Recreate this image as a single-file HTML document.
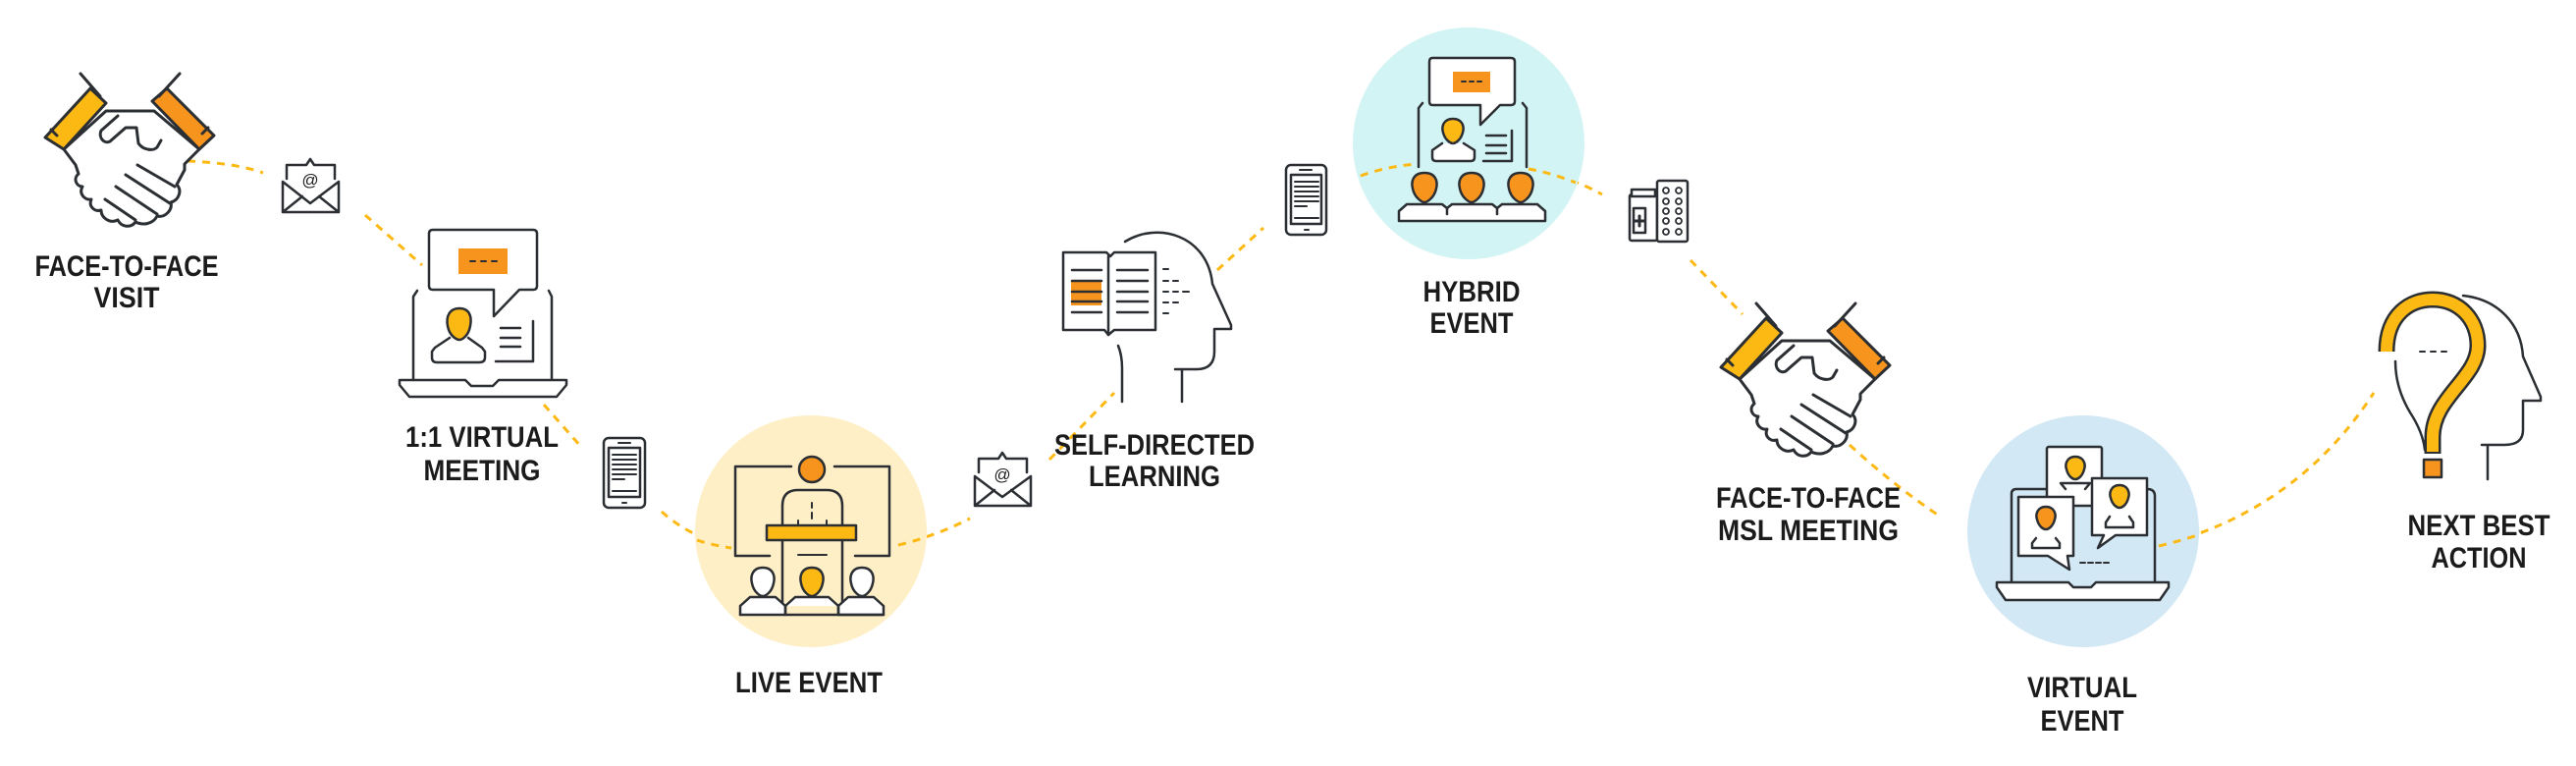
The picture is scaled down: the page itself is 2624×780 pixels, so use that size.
<!DOCTYPE html>
<html><head><meta charset="utf-8"><style>
html,body{margin:0;padding:0;background:#fff;}
svg{display:block;}
text{font-family:"Liberation Sans Narrow","Liberation Sans",sans-serif;font-weight:bold;font-size:30px;fill:#1b1b1b;text-anchor:middle;}
</style></head><body>
<svg width="2624" height="780" viewBox="0 0 2624 780" xmlns="http://www.w3.org/2000/svg">
<defs>
<g id="hs" stroke="#2b2f33" stroke-width="3" stroke-linejoin="round" stroke-linecap="round">
  <path d="M65,152 L77,168 L80,177 C74,182 78,190 84,190 C80,197 86,204 93,203 C90,210 96,216 103,214 C103,222 112,228 120,224 C124,232 134,232 138,226 C146,230 156,228 160,220 C168,222 176,214 174,206 C182,204 186,194 180,188 L188,173 L188,167 L195,160 L203,152 L157,113 L108,113 Z" fill="#fff"/>
  <path d="M120,118 L103,133 C100,140 106,147 112,144 L128,130 L139,130 L141,146 C146,153 156,154 160,150 L164,143" fill="#fff"/>
  <path d="M140,168 L178,190 M128,178 L173,207 M118,190 L160,218 M107,203 L138,224" fill="none"/>
  <path d="M92,90 L108,105 L65,152 L46,140 Z" fill="#FDB913"/>
  <path d="M155,103 L170,90 L218,138 L203,152 Z" fill="#F7941D"/>
  <path d="M82,75 L102,98 M183,75 L162,98 M52,132 L58,138 M212,130 L206,136" fill="none"/>
</g>
</defs>

<!-- connectors -->
<g fill="none" stroke="#FDB913" stroke-width="3" stroke-dasharray="8 7">
  <path d="M191,164 Q240,166 268,176"/>
  <path d="M372,219 L430,270"/>
  <path d="M554,412 L592,455"/>
  <path d="M674,521 Q700,545 745,558"/>
  <path d="M915,555 Q955,545 988,528"/>
  <path d="M1069,468 L1135,400"/>
  <path d="M1240,275 L1287,232"/>
  <path d="M1386,179 Q1410,170 1442,167"/>
  <path d="M1557,172 Q1600,180 1632,198"/>
  <path d="M1722,265 L1775,320"/>
  <path d="M1884,453 Q1930,495 1975,525"/>
  <path d="M2199,556 Q2340,520 2418,400"/>
</g>

<!-- circles -->
<circle cx="826" cy="541" r="118" fill="#FEEFC6"/>
<circle cx="1496" cy="146" r="118" fill="#D3F4F4"/>
<circle cx="2122" cy="541" r="118" fill="#D3E8F5"/>
<path d="M1386,179 Q1410,170 1442,167 M1557,172 Q1580,176 1605,186" fill="none" stroke="#FDB913" stroke-width="3" stroke-dasharray="8 7"/>
<path d="M710,550 Q725,555 745,558 M915,555 Q928,552 940,548 M2199,556 Q2220,551 2238,545" fill="none" stroke="#FDB913" stroke-width="3" stroke-dasharray="8 7"/>

<!-- handshakes -->
<use href="#hs"/>
<use href="#hs" transform="translate(1707,234)"/>

<g stroke="#2b2f33" stroke-width="2.5" fill="none" stroke-linejoin="round" stroke-linecap="round">
<!-- email 1 -->
<path d="M288,185 L288,216 L345,216 L345,185 M288,185 L316,207 L345,185 M288,216 L308,200 M345,216 L325,200"/>
<path d="M292,182 L292,168 L312,168 L316,162 L320,168 L341,168 L341,182" />
<!-- email 2 -->
<path d="M993,485 L993,515 L1050,515 L1050,485 M993,485 L1021,506 L1050,485 M993,515 L1013,499 M1050,515 L1030,499"/>
<path d="M997,481 L997,467 L1017,467 L1021,461 L1025,467 L1046,467 L1046,481"/>

<!-- phone 1 -->
<rect x="615" y="446" width="42" height="71" rx="5" fill="#fff"/>
<rect x="620" y="456" width="32" height="50"/>
<path d="M630,451 L642,451 M634,512 L638,512 M624,463 L648,463 M624,468 L648,468 M624,473 L648,473 M624,478 L648,478 M624,483 L648,483 M624,488 L636,488 M624,500 L648,500" stroke-width="2"/>
<!-- phone 2 -->
<rect x="1310" y="168" width="41" height="71" rx="5" fill="#fff"/>
<rect x="1315" y="178" width="31" height="50"/>
<path d="M1324,173 L1336,173 M1329,234 L1333,234 M1319,185 L1343,185 M1319,190 L1343,190 M1319,195 L1343,195 M1319,200 L1343,200 M1319,205 L1343,205 M1319,210 L1331,210 M1319,222 L1343,222" stroke-width="2"/>

<!-- laptop 1 -->
<path d="M425,296 L421,302 L421,387 M559,296 L562,302 L562,387"/>
<path d="M407,387 L474,387 L480,393 L502,393 L508,387 L577,387 L577,392 L567,404 L417,404 L407,392 Z" fill="#fff"/>
<path d="M441,234 L543,234 Q547,234 547,238 L547,291 Q547,295 543,295 L529,295 L503,322 L503,295 L441,295 Q437,295 437,291 L437,238 Q437,234 441,234 Z" fill="#fff"/>
<rect x="467" y="253" width="50" height="26" fill="#F7941D" stroke="none"/>
<path d="M479,266 L484,266 M490,266 L495,266 M501,266 L506,266" stroke-width="2"/>
<path d="M510,334 L530,334 M510,344 L530,344 M510,353 L530,353 M505,368 L543,368 L543,327"/>
<path d="M458,344 L443,354 L440,358 L440,364 Q440,369 445,369 L488,369 Q494,369 494,364 L494,358 L491,354 L477,344" fill="#fff"/>
<path d="M468,314 C478,314 481,322 479,332 C477,343 470,346 468,346 C466,346 458,343 456,332 C454,322 458,314 468,314 Z" fill="#FDB913"/>

<!-- live event -->
<path d="M806,475 L749,475 L749,566 L784,566 M850,475 L906,475 L906,566 L871,566"/>
<path d="M797,617 L797,515 Q797,499 813,499 L842,499 Q858,499 858,515 L858,617"/>
<path d="M827,512 L827,517 M827,522 L827,528 M813,565 L842,565 M813,535 L813,530 M842,535 L842,530" stroke-width="2"/>
<rect x="781" y="535" width="91" height="15" fill="#FDB913"/>
<circle cx="827" cy="478" r="13" fill="#F7941D"/>
<path d="M754,626 L754,617 L764,608 L790,608 L800,617 L800,626 M800,617 L810,608 L844,608 L854,617 M854,626 L854,617 L864,608 L890,608 L900,617 L900,626 Z" fill="#fff"/>
<path d="M754,626 L900,626 M800,617 L800,626 M854,617 L854,626"/>
<path d="M777,578 C787,578 790,586 788,594 C786,604 779,607 777,607 C775,607 768,604 766,594 C764,586 767,578 777,578 Z" fill="#fff"/>
<path d="M827,578 C837,578 840,586 838,594 C836,604 829,607 827,607 C825,607 818,604 816,594 C814,586 817,578 827,578 Z" fill="#FDB913"/>
<path d="M878,578 C888,578 891,586 889,594 C887,604 880,607 878,607 C876,607 869,604 867,594 C865,586 868,578 878,578 Z" fill="#fff"/>

<!-- self-directed head -->
<path d="M1146,246 C1180,225 1230,240 1235,289 L1254,331 L1254,335 L1237,335 L1237,358 Q1237,376 1219,376 L1197,376 M1204,376 L1204,409 M1139,352 Q1143,362 1143,375 L1143,409"/>
<path d="M1083,257 L1127,257 L1131,261 L1135,257 L1177,257 L1177,336 L1135,336 L1129,341 L1125,336 L1083,336 Z" fill="#fff"/>
<path d="M1129,261 L1129,341"/>
<rect x="1091" y="287" width="31" height="24" fill="#F7941D" stroke="none"/>
<path d="M1092,275 L1122,275 M1092,286 L1122,286 M1092,297 L1122,297 M1092,307 L1122,307 M1092,318 L1122,318 M1138,275 L1169,275 M1138,286 L1169,286 M1138,297 L1169,297 M1138,307 L1169,307 M1138,318 L1169,318"/>
<path d="M1185,274 L1190,274 M1185,286 L1190,286 M1195,286 L1200,286 M1185,297 L1190,297 M1195,297 L1200,297 M1205,297 L1211,297 M1185,308 L1190,308 M1195,308 L1200,308 M1185,319 L1190,319" stroke-width="2"/>

<!-- hybrid -->
<path d="M1445,170 L1445,110 L1449,105 M1555,170 L1555,110 L1551,105"/>
<path d="M1459,59 L1539,59 Q1543,59 1543,63 L1543,103 Q1543,107 1539,107 L1528,107 L1508,127 L1508,107 L1459,107 Q1456,107 1456,103 L1456,63 Q1456,59 1459,59 Z" fill="#fff"/>
<rect x="1480" y="73" width="38" height="21" fill="#F7941D" stroke="none"/>
<path d="M1489,83 L1493,83 M1497,83 L1501,83 M1505,83 L1509,83" stroke-width="2"/>
<path d="M1514,138 L1534,138 M1514,148 L1534,148 M1514,156 L1534,156 M1511,164 L1540,164 L1540,133"/>
<path d="M1469,146 L1459,153 L1459,160 Q1459,164 1463,164 L1498,164 Q1502,164 1502,160 L1502,153 L1491,146" fill="#fff"/>
<path d="M1480,121 C1489,121 1492,128 1490,135 C1488,143 1482,146 1480,146 C1478,146 1472,143 1470,135 C1468,128 1471,121 1480,121 Z" fill="#FDB913"/>
<path d="M1425,225 L1425,215 L1433,208 L1469,208 L1474,212 L1479,208 L1520,208 L1525,212 L1530,208 L1566,208 L1574,215 L1574,225 Z" fill="#fff"/>
<path d="M1474,212 L1474,218 M1525,212 L1525,218"/>
<path d="M1451,176 C1462,176 1465,184 1463,192 C1461,202 1453,206 1451,206 C1449,206 1441,202 1439,192 C1437,184 1440,176 1451,176 Z" fill="#F7941D"/>
<path d="M1499,176 C1510,176 1513,184 1511,192 C1509,202 1501,206 1499,206 C1497,206 1489,202 1487,192 C1485,184 1488,176 1499,176 Z" fill="#F7941D"/>
<path d="M1549,176 C1560,176 1563,184 1561,192 C1559,202 1551,206 1549,206 C1547,206 1539,202 1537,192 C1535,184 1538,176 1549,176 Z" fill="#F7941D"/>

<!-- pills -->
<rect x="1660" y="198" width="28" height="47" rx="2" fill="#fff"/>
<rect x="1662" y="193" width="24" height="7" fill="#fff"/>
<rect x="1664" y="212" width="12" height="25"/>
<path d="M1670,220 L1670,230 M1665,225 L1675,225" stroke-width="3"/>
<rect x="1688" y="184" width="31" height="62" rx="2" fill="#fff"/>
<g stroke-width="1.8">
<circle cx="1697" cy="194" r="3"/><circle cx="1710" cy="194" r="3"/>
<circle cx="1697" cy="205" r="3"/><circle cx="1710" cy="205" r="3"/>
<circle cx="1697" cy="215" r="3"/><circle cx="1710" cy="215" r="3"/>
<circle cx="1697" cy="225" r="3"/><circle cx="1710" cy="225" r="3"/>
<circle cx="1697" cy="236" r="3"/><circle cx="1710" cy="236" r="3"/>
</g>

<!-- virtual event -->
<path d="M2049,595 L2049,503 Q2049,498 2054,498 L2085,498 M2187,498 Q2195,498 2195,505 L2195,595"/>
<path d="M2034,593 L2107,593 L2112,598 L2130,598 L2135,593 L2209,593 L2209,598 L2200,611 L2043,611 L2034,598 Z" fill="#fff"/>
<rect x="2085" y="455" width="56" height="60" rx="2" fill="#fff"/>
<path d="M2131,487 L2187,487 L2187,545 L2155,545 L2137,558 L2143,545 L2131,545 Z" fill="#fff"/>
<path d="M2056,506 L2112,506 L2112,566 L2106,566 L2108,580 L2086,566 L2056,566 Z" fill="#fff"/>
<path d="M2119,573 L2124,573 M2127,573 L2132,573 M2135,573 L2140,573 M2143,573 L2148,573" stroke-width="2"/>
<path d="M2104,498 L2099,492 L2129,492 L2124,498" fill="#fff"/>
<path d="M2114,465 C2122,465 2125,472 2123,478 C2121,486 2116,488 2114,488 C2112,488 2107,486 2105,478 C2103,472 2106,465 2114,465 Z" fill="#FDB913"/>
<path d="M2149,526 L2145,532 L2145,537 L2173,537 L2173,532 L2169,526" fill="#fff"/>
<path d="M2159,494 C2167,494 2170,501 2168,507 C2166,515 2161,517 2159,517 C2157,517 2152,515 2150,507 C2148,501 2151,494 2159,494 Z" fill="#FDB913"/>
<path d="M2074,548 L2070,553 L2070,558 L2098,558 L2098,553 L2094,548" fill="#fff"/>
<path d="M2084,516 C2092,516 2095,523 2093,529 C2091,537 2086,539 2084,539 C2082,539 2077,537 2075,529 C2073,523 2076,516 2084,516 Z" fill="#F7941D"/>

<!-- next best action -->
<path d="M2509,301 C2545,305 2568,330 2570,363 L2588,404 L2588,408 L2570,408 L2570,438 Q2570,453 2551,453 L2528,453 M2534,453 L2534,488 M2440,368 Q2440,395 2455,420 Q2468,440 2470,458"/>
<path d="M2431,358 C2431,320 2455,305 2478,305 C2505,305 2524,325 2524,352 C2524,385 2478,405 2478,445 L2478,462" stroke="#2b2f33" stroke-width="17" stroke-linecap="butt"/>
<path d="M2431,358 C2431,320 2455,305 2478,305 C2505,305 2524,325 2524,352 C2524,385 2478,405 2478,445 L2478,460" stroke="#FDB913" stroke-width="12" stroke-linecap="butt"/>
<rect x="2469" y="468" width="18" height="18" fill="#F7941D"/>
<path d="M2465,358 L2470,358 M2476,358 L2481,358 M2487,358 L2492,358" stroke-width="2"/>
</g>
<text x="316" y="189" style="font-size:17px;font-family:'Liberation Sans',sans-serif;font-weight:normal">@</text>
<text x="1021" y="489" style="font-size:17px;font-family:'Liberation Sans',sans-serif;font-weight:normal">@</text>

<!-- labels -->
<text x="129" y="281" textLength="187" lengthAdjust="spacingAndGlyphs">FACE-TO-FACE</text>
<text x="129" y="313" textLength="67" lengthAdjust="spacingAndGlyphs">VISIT</text>
<text x="491" y="455" textLength="156" lengthAdjust="spacingAndGlyphs">1:1 VIRTUAL</text>
<text x="491" y="489" textLength="119" lengthAdjust="spacingAndGlyphs">MEETING</text>
<text x="824" y="705" textLength="150" lengthAdjust="spacingAndGlyphs">LIVE EVENT</text>
<text x="1176" y="463" textLength="204" lengthAdjust="spacingAndGlyphs">SELF-DIRECTED</text>
<text x="1176" y="495" textLength="134" lengthAdjust="spacingAndGlyphs">LEARNING</text>
<text x="1499" y="307" textLength="99" lengthAdjust="spacingAndGlyphs">HYBRID</text>
<text x="1499" y="339" textLength="85" lengthAdjust="spacingAndGlyphs">EVENT</text>
<text x="1842" y="517" textLength="188" lengthAdjust="spacingAndGlyphs">FACE-TO-FACE</text>
<text x="1842" y="550" textLength="184" lengthAdjust="spacingAndGlyphs">MSL MEETING</text>
<text x="2121" y="710" textLength="112" lengthAdjust="spacingAndGlyphs">VIRTUAL</text>
<text x="2121" y="744" textLength="85" lengthAdjust="spacingAndGlyphs">EVENT</text>
<text x="2525" y="545" textLength="145" lengthAdjust="spacingAndGlyphs">NEXT BEST</text>
<text x="2525" y="578" textLength="97" lengthAdjust="spacingAndGlyphs">ACTION</text>
</svg>
</body></html>
